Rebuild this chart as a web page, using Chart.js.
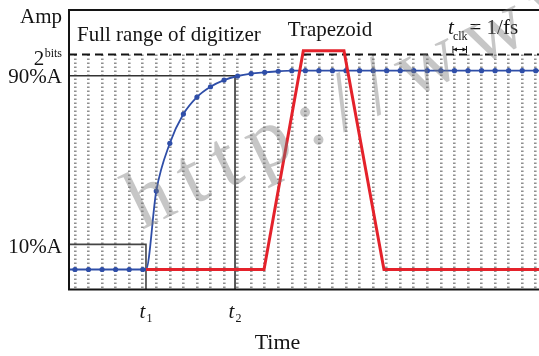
<!DOCTYPE html>
<html>
<head>
<meta charset="utf-8">
<script src="https://cdn.jsdelivr.net/npm/chart.js@4/dist/chart.umd.min.js"></script>
<style>
  html, body { margin: 0; padding: 0; background: #fff; }
  #wrap { width: 539px; height: 356px; position: relative; }
</style>
</head>
<body>
<div id="wrap"><canvas id="c"></canvas></div>
<script>
// ADC sample instants (one per clock period, in samples)
const sampleIdx = [0, 1, 2, 3, 4, 5, 6, 7, 8, 9, 10, 11, 12, 13, 14, 15, 16, 17,
                   18, 19, 20, 21, 22, 23, 24, 25, 26, 27, 28, 29, 30, 31, 32, 33, 34];
// Sampled detector pulse (0 = baseline, 1 = full digitizer range)
const pulseAmp = [0, 0, 0, 0, 0, 0, 0.365, 0.587, 0.723, 0.802, 0.850, 0.881, 0.900,
                  0.911, 0.917, 0.922, 0.925, 0.925, 0.925, 0.925, 0.925, 0.925, 0.925,
                  0.925, 0.925, 0.925, 0.925, 0.925, 0.925, 0.925, 0.925, 0.925, 0.925,
                  0.925, 0.925];
// Pulse start (t1) and 90 % crossing (t2), in samples
const t1 = 5.24;
const t2 = 11.81;
// Trapezoidal shaper output
const trapTime = [5.24, 13.95, 16.85, 19.85, 22.8, 34.24];
const trapAmp = [0, 0, 1.018, 1.018, 0, 0];
// Amplitude reference levels drawn on the left axis
const levelNames = ['2', '90%A', '10%A'];
const levelValues = [1.0, 0.901, 0.117];
// Visible window
const xFrom = -0.44, xTo = 34.24;
const yFrom = -0.093, yTo = 1.0, frameTop = 1.207;
// Clock period shown by the t_clk marker (between these two samples)
const clkMarker = [28, 29];

const BLUE = '#2f4ea8';
const RED = '#e4222b';
const INK = '#141414';
const SERIF = "'Liberation Serif', 'Times New Roman', serif";

// Blue trace: flat before t1, sampled rise after; the t1 knee and window edges carry no dot
const pulsePts = [{ x: xFrom, y: pulseAmp[0], dot: false }];
sampleIdx.forEach((k, i) => {
  if (i > 0 && sampleIdx[i - 1] < t1 && k > t1) pulsePts.push({ x: t1, y: 0, dot: false });
  pulsePts.push({ x: k, y: pulseAmp[i], dot: true });
});
pulsePts.push({ x: xTo, y: pulseAmp[pulseAmp.length - 1], dot: false });

const trapPts = trapTime.map((t, i) => ({ x: t, y: trapAmp[i] }));
const fullRange = levelValues[0], level90 = levelValues[1], level10 = levelValues[2];

const line = (data, color, width, extra) => Object.assign({
  type: 'line', data, borderColor: color, borderWidth: width,
  pointRadius: 0, tension: 0, fill: false, clip: false
}, extra || {});

const labelsPlugin = {
  id: 'figureText',
  afterDraw(chart) {
    const { ctx, chartArea: a, scales: { x, y } } = chart;
    const top = y.getPixelForValue(frameTop);
    ctx.save();
    // frame (open on the right)
    ctx.strokeStyle = INK;
    ctx.lineWidth = 2;
    ctx.beginPath();
    ctx.moveTo(a.right + 2, top);
    ctx.lineTo(a.left, top);
    ctx.lineTo(a.left, a.bottom);
    ctx.lineTo(a.right + 2, a.bottom);
    ctx.stroke();

    ctx.fillStyle = INK;
    ctx.textBaseline = 'alphabetic';
    const font = (size, italic) => (italic ? 'italic ' : '') + size + 'px ' + SERIF;

    // left axis labels
    ctx.textAlign = 'right';
    ctx.font = font(21);
    ctx.fillText('Amp', a.left - 7, top + 13);
    ctx.fillText(levelNames[1], a.left - 7, y.getPixelForValue(level90) + 7.3);
    ctx.fillText(levelNames[2], a.left - 7, y.getPixelForValue(level10) + 8.5);
    // 2^bits
    const yb = y.getPixelForValue(fullRange);
    ctx.font = font(12);
    ctx.fillText('bits', a.left - 7, yb + 2.5);
    const wBits = ctx.measureText('bits').width;
    ctx.font = font(21);
    ctx.fillText(levelNames[0], a.left - 7 - wBits - 0.5, yb + 10.5);

    // titles inside the frame
    ctx.textAlign = 'left';
    ctx.fillText('Full range of digitizer', a.left + 8, top + 31);
    ctx.textAlign = 'center';
    ctx.fillText('Trapezoid', 330, top + 26.5);

    // t_clk = 1/fs
    const c0 = x.getPixelForValue(clkMarker[0]), c1 = x.getPixelForValue(clkMarker[1]);
    ctx.textAlign = 'left';
    ctx.font = font(21, true);
    ctx.fillText('t', c0 - 6.5, top + 24);
    ctx.font = font(12);
    ctx.fillText('clk', c0 - 1.5, top + 30);
    ctx.font = font(21);
    ctx.fillText('= 1/fs', c1 + 1.5, top + 24);
    // double arrow spanning one clock period
    const ya = yb - 5;
    ctx.lineWidth = 1;
    ctx.beginPath();
    ctx.moveTo(c0 - 1.5, ya - 3.5); ctx.lineTo(c0 - 1.5, ya + 3.5);
    ctx.moveTo(c1 - 1.5, ya - 3.5); ctx.lineTo(c1 - 1.5, ya + 3.5);
    ctx.moveTo(c0 - 1.5, ya); ctx.lineTo(c1 - 1.5, ya);
    ctx.stroke();
    ctx.beginPath();
    ctx.moveTo(c0 - 1.5, ya); ctx.lineTo(c0 + 2.5, ya - 2); ctx.lineTo(c0 + 2.5, ya + 2); ctx.closePath();
    ctx.moveTo(c1 - 1.5, ya); ctx.lineTo(c1 - 5.5, ya - 2); ctx.lineTo(c1 - 5.5, ya + 2); ctx.closePath();
    ctx.fill();

    // time marks under the axis
    [[t1, '1'], [t2, '2']].forEach(([t, sub]) => {
      const px = x.getPixelForValue(t);
      ctx.textAlign = 'left';
      ctx.font = font(21, true);
      ctx.fillText('t', px - 6.5, a.bottom + 28);
      ctx.font = font(12);
      ctx.fillText(sub, px + 0.5, a.bottom + 32);
    });
    ctx.textAlign = 'center';
    ctx.font = font(22);
    ctx.fillText('Time', 277.5, a.bottom + 59.5);

    // faint diagonal watermark
    ctx.translate(142, 230);
    ctx.rotate(-26 * Math.PI / 180);
    ctx.font = '84px ' + SERIF;
    ctx.fillStyle = 'rgba(120,120,120,0.42)';
    ctx.textAlign = 'left';
    if ('letterSpacing' in ctx) ctx.letterSpacing = '14px';
    ctx.fillText('http://www', 0, 0);
    ctx.restore();
  }
};

new Chart(document.getElementById('c'), {
  type: 'line',
  data: {
    datasets: [
      line(trapPts, RED, 3),
      line(pulsePts, BLUE, 1.8, {
        cubicInterpolationMode: 'monotone',
        pointRadius: c => (c.raw && c.raw.dot ? 2.6 : 0),
        pointBackgroundColor: BLUE, pointBorderColor: BLUE, pointBorderWidth: 0
      }),
      line([{ x: xFrom, y: level90 }, { x: t2, y: level90 }, { x: t2, y: yFrom }], '#333', 1.6),
      line([{ x: xFrom, y: level10 }, { x: t1, y: level10 }, { x: t1, y: yFrom }], '#444', 1.6),
      line([{ x: xFrom, y: fullRange }, { x: xTo, y: fullRange }], INK, 2, { borderDash: [8, 5] })
    ]
  },
  options: {
    responsive: true,
    maintainAspectRatio: false,
    animation: false,
    events: [],
    layout: { padding: { left: 69, right: 0, top: 54.5, bottom: 66.5 } },
    plugins: { legend: { display: false }, tooltip: { enabled: false } },
    scales: {
      x: {
        type: 'linear', min: xFrom, max: xTo,
        afterBuildTicks: s => { s.ticks = sampleIdx.map(v => ({ value: v })); },
        afterFit: s => { s.height = 0; },
        ticks: { display: false },
        grid: { color: '#8f8f8f', lineWidth: 2.6, drawTicks: false },
        border: { display: false, dash: [1.6, 2.4] }
      },
      y: {
        type: 'linear', min: yFrom, max: yTo,
        afterFit: s => { s.width = 0; },
        ticks: { display: false },
        grid: { display: false, drawTicks: false },
        border: { display: false }
      }
    }
  },
  plugins: [labelsPlugin]
});
</script>
</body>
</html>
